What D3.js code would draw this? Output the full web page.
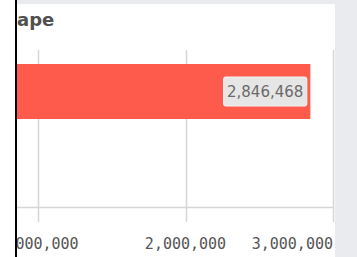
<!DOCTYPE html>
<html><head><meta charset="utf-8">
<script src="https://cdn.jsdelivr.net/npm/d3@7"></script>
<style>html,body{margin:0;padding:0;background:#fff;overflow:hidden}</style>
</head><body>
<script>
const titleText = "ape";
const categories = ["ape"];
const values = [2846468];
const tickValues = [1000000, 2000000, 3000000];
const tickLabels = ["1,000,000", "2,000,000", "3,000,000"];

const W = 357, H = 257;
const svg = d3.select("body").append("svg").attr("width", W).attr("height", H)
  .style("display", "block");

svg.append("rect").attr("width", W).attr("height", H).attr("fill", "#fff");
// frame bands
svg.append("rect").attr("x", 16).attr("y", 0).attr("width", W - 16).attr("height", 4).attr("fill", "#e9ebee");
svg.append("rect").attr("x", 335).attr("y", 0).attr("width", W - 335).attr("height", H).attr("fill", "#e9ebee");

const defs = svg.append("defs");
defs.append("clipPath").attr("id", "panel").append("rect")
  .attr("x", 17).attr("y", 4).attr("width", 335 - 17).attr("height", H - 4);

const g = svg.append("g").attr("clip-path", "url(#panel)");

const x = d3.scaleLinear().domain([0, 3000000]).range([-109.5, 333]);
const y = d3.scaleBand().domain(categories).range([64, 119]);

// title
g.append("text").attr("x", 17).attr("y", 26).text(titleText)
  .attr("font-family", "DejaVu Sans").attr("font-weight", "bold")
  .attr("font-size", 18).attr("fill", "#505050");

// grid lines
g.selectAll(".grid").data(tickValues).join("line")
  .attr("x1", d => Math.round(x(d)) + 0.5).attr("x2", d => Math.round(x(d)) + 0.5)
  .attr("y1", 50).attr("y2", 222)
  .attr("stroke", "#d6d6d6").attr("stroke-width", 1.5);

// axis baseline
g.append("line").attr("x1", 16).attr("x2", x(3000000))
  .attr("y1", 207.5).attr("y2", 207.5).attr("stroke", "#d6d6d6").attr("stroke-width", 1.5);

// bars
g.selectAll(".bar").data(values).join("rect")
  .attr("x", x(0)).attr("y", (d, i) => y(categories[i]))
  .attr("width", d => x(d) - x(0)).attr("height", y.bandwidth())
  .attr("fill", "#ff5b4c");

// value labels
const fmt = d3.format(",");
values.forEach((v, i) => {
  const cx = x(v) - 3;
  const cy = y(categories[i]) + y.bandwidth() / 2;
  const t = g.append("text").attr("x", cx - 4).attr("y", cy + 5.5)
    .attr("text-anchor", "end").text(fmt(v))
    .attr("font-family", "DejaVu Sans").attr("font-size", 15).attr("fill", "#6a6a6a");
  const bb = t.node().getBBox();
  g.insert("rect", () => t.node())
    .attr("x", bb.x - 3.5).attr("y", cy - 14.5).attr("width", bb.width + 7).attr("height", 29)
    .attr("rx", 2).attr("fill", "#e6e6e6").attr("stroke", "#f3f3f3").attr("stroke-width", 1);
});

// tick labels
g.selectAll(".tick").data(tickValues).join("text")
  .attr("x", d => x(d)).attr("y", 249)
  .attr("text-anchor", (d, i) => i === tickValues.length - 1 ? "end" : "middle")
  .text((d, i) => tickLabels[i])
  .attr("font-family", "DejaVu Sans Mono").attr("font-size", 15).attr("fill", "#555");

// black frame line
svg.append("rect").attr("x", 15).attr("y", 0).attr("width", 2).attr("height", H).attr("fill", "#000");
</script>
</body></html>
